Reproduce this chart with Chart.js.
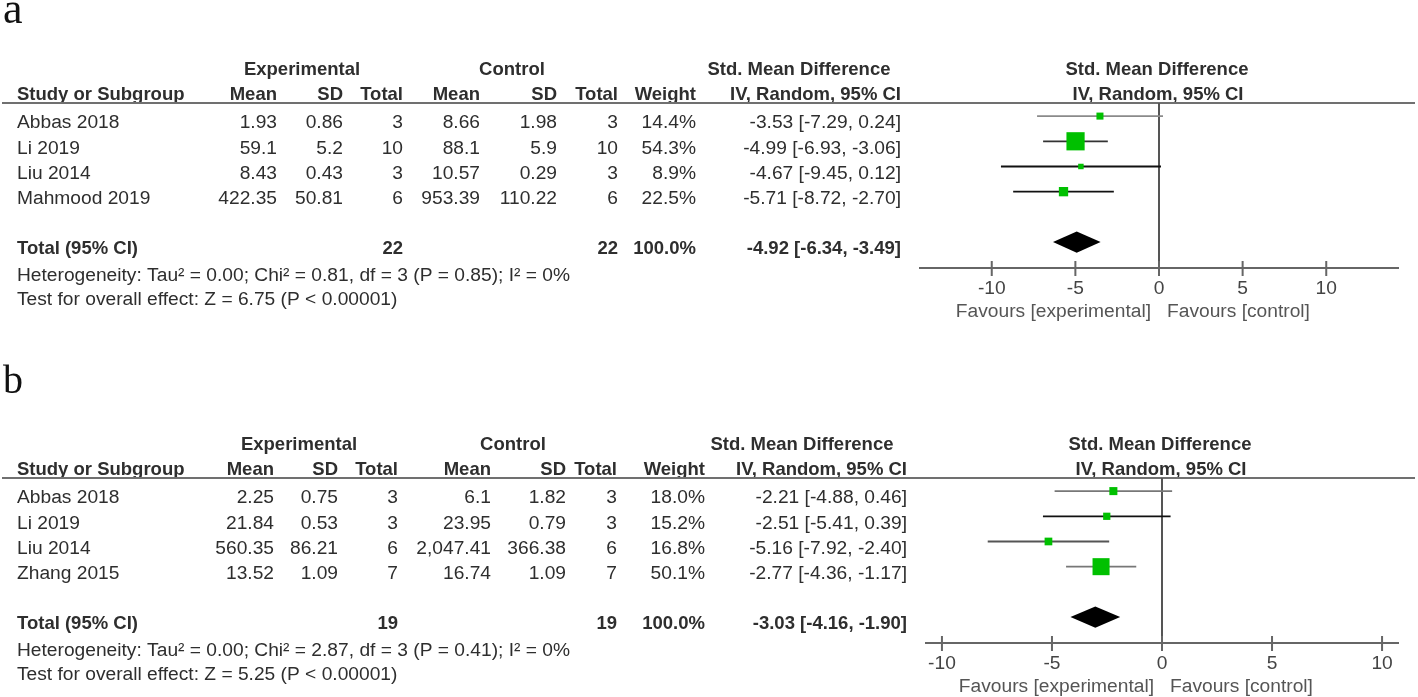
<!DOCTYPE html>
<html>
<head>
<meta charset="utf-8">
<script src="https://cdn.jsdelivr.net/npm/chart.js@4.4.1/dist/chart.umd.min.js"></script>
<style>
    html, body { margin: 0; padding: 0; background: #fff; }
    #wrap { position: relative; width: 1418px; height: 697px; overflow: hidden; }
    .panel { position: absolute; left: 0; width: 1418px; }
</style>
</head>
<body>
<div id="wrap">
    <div class="panel" style="top:0;height:350px"><canvas id="panelA"></canvas></div>
    <div class="panel" style="top:350px;height:347px"><canvas id="panelB"></canvas></div>
</div>
<script>
//--------------------------------------------Data
const tickValues = [-10, -5, 0, 5, 10];

// panel a
const studiesA = ['Abbas 2018', 'Li 2019', 'Liu 2014', 'Mahmood 2019'];
const expMeanA = [1.93, 59.1, 8.43, 422.35];
const expSdA = [0.86, 5.2, 0.43, 50.81];
const expNA = [3, 10, 3, 6];
const ctlMeanA = [8.66, 88.1, 10.57, 953.39];
const ctlSdA = [1.98, 5.9, 0.29, 110.22];
const ctlNA = [3, 10, 3, 6];
const weightA = [14.4, 54.3, 8.9, 22.5];
const smdA = [-3.53, -4.99, -4.67, -5.71];
const lowA = [-7.29, -6.93, -9.45, -8.72];
const highA = [0.24, -3.06, 0.12, -2.70];
const totalA = { expN: 22, ctlN: 22, smd: -4.92, low: -6.34, high: -3.49 };
const hetA = 'Heterogeneity: Tau² = 0.00; Chi² = 0.81, df = 3 (P = 0.85); I² = 0%';
const testA = 'Test for overall effect: Z = 6.75 (P < 0.00001)';

// panel b
const studiesB = ['Abbas 2018', 'Li 2019', 'Liu 2014', 'Zhang 2015'];
const expMeanB = [2.25, 21.84, 560.35, 13.52];
const expSdB = [0.75, 0.53, 86.21, 1.09];
const expNB = [3, 3, 6, 7];
const ctlMeanB = [6.1, 23.95, 2047.41, 16.74];
const ctlSdB = [1.82, 0.79, 366.38, 1.09];
const ctlNB = [3, 3, 6, 7];
const weightB = [18.0, 15.2, 16.8, 50.1];
const smdB = [-2.21, -2.51, -5.16, -2.77];
const lowB = [-4.88, -5.41, -7.92, -4.36];
const highB = [0.46, 0.39, -2.40, -1.17];
const totalB = { expN: 19, ctlN: 19, smd: -3.03, low: -4.16, high: -1.90 };
const hetB = 'Heterogeneity: Tau² = 0.00; Chi² = 2.87, df = 3 (P = 0.41); I² = 0%';
const testB = 'Test for overall effect: Z = 5.25 (P < 0.00001)';

//--------------------------------------------Layout
const REG = '19.2px "Liberation Sans", Arial, sans-serif';
const BOLD = 'bold 18.5px "Liberation Sans", Arial, sans-serif';
const TEXT = '#2e2e2e';
const TOTAL_ROW = 5;
const TEXT_DY = 7;

const layoutA = {
    id: 'panelA', height: 350, dy: 0, label: 'a', labelFont: '44px "Liberation Serif", serif', labelY: 23,
    plotLeft: 919, plotRight: 1399, range: 14.35,
    cols: [17, 277, 343, 403, 480, 557, 618, 696, 901],
    heads: [302, 512, 799, 1157], ivX: 1158,
    ciColors: ['#8a8a8a', '#333', '#111', '#111'],
};
const layoutB = {
    id: 'panelB', height: 347, dy: 25, label: 'b', labelFont: '40px "Liberation Serif", serif', labelY: 43,
    plotLeft: 925, plotRight: 1399, range: 10.77,
    cols: [17, 274, 338, 398, 491, 566, 617, 705, 907],
    heads: [299, 513, 802, 1160], ivX: 1161,
    ciColors: ['#777', '#111', '#555', '#777'],
};

//--------------------------------------------Functions
const fmtNum = v => v.toLocaleString('en-US', { maximumFractionDigits: 2 });
const fmtCi = (m, l, h) => `${m.toFixed(2)} [${l.toFixed(2)}, ${h.toFixed(2)}]`;

function txt(ctx, s, x, y, align, font, color) {
    ctx.font = font;
    ctx.fillStyle = color || TEXT;
    ctx.textAlign = align;
    ctx.textBaseline = 'middle';
    ctx.fillText(s, x, y);
}

function forestPlugin(L, d) {
    return {
        id: 'forest_' + L.id,
        beforeDatasetsDraw(chart) {
            const { ctx, chartArea, scales } = chart;
            const xs = scales.x, ys = scales.y;
            const top = chartArea.top, bottom = chartArea.bottom;
            const c = L.cols;
            ctx.save();

            // panel letter
            ctx.font = L.labelFont;
            ctx.fillStyle = '#111';
            ctx.textAlign = 'left';
            ctx.textBaseline = 'alphabetic';
            ctx.fillText(L.label, 3, L.labelY);

            // headers
            const h1 = top - 33, h2 = top - 8;
            txt(ctx, 'Experimental', L.heads[0], h1, 'center', BOLD);
            txt(ctx, 'Control', L.heads[1], h1, 'center', BOLD);
            txt(ctx, 'Std. Mean Difference', L.heads[2], h1, 'center', BOLD);
            txt(ctx, 'Std. Mean Difference', L.heads[3], h1, 'center', BOLD);
            txt(ctx, 'Study or Subgroup', c[0], h2, 'left', BOLD);
            txt(ctx, 'Mean', c[1], h2, 'right', BOLD);
            txt(ctx, 'SD', c[2], h2, 'right', BOLD);
            txt(ctx, 'Total', c[3], h2, 'right', BOLD);
            txt(ctx, 'Mean', c[4], h2, 'right', BOLD);
            txt(ctx, 'SD', c[5], h2, 'right', BOLD);
            txt(ctx, 'Total', c[6], h2, 'right', BOLD);
            txt(ctx, 'Weight', c[7], h2, 'right', BOLD);
            txt(ctx, 'IV, Random, 95% CI', c[8], h2, 'right', BOLD);
            txt(ctx, 'IV, Random, 95% CI', L.ivX, h2, 'center', BOLD);

            // header rule
            ctx.strokeStyle = '#707070';
            ctx.lineWidth = 2;
            ctx.beginPath();
            ctx.moveTo(2, top);
            ctx.lineTo(1415, top);
            ctx.stroke();

            // study rows
            d.studies.forEach((s, i) => {
                const y = ys.getPixelForValue(i) + TEXT_DY;
                txt(ctx, s, c[0], y, 'left', REG);
                txt(ctx, fmtNum(d.expMean[i]), c[1], y, 'right', REG);
                txt(ctx, fmtNum(d.expSd[i]), c[2], y, 'right', REG);
                txt(ctx, String(d.expN[i]), c[3], y, 'right', REG);
                txt(ctx, fmtNum(d.ctlMean[i]), c[4], y, 'right', REG);
                txt(ctx, fmtNum(d.ctlSd[i]), c[5], y, 'right', REG);
                txt(ctx, String(d.ctlN[i]), c[6], y, 'right', REG);
                txt(ctx, d.weight[i].toFixed(1) + '%', c[7], y, 'right', REG);
                txt(ctx, fmtCi(d.smd[i], d.low[i], d.high[i]), c[8], y, 'right', REG);
            });

            // total row
            const ty = ys.getPixelForValue(TOTAL_ROW) + TEXT_DY;
            const t = d.total;
            txt(ctx, 'Total (95% CI)', c[0], ty, 'left', BOLD);
            txt(ctx, String(t.expN), c[3], ty, 'right', BOLD);
            txt(ctx, String(t.ctlN), c[6], ty, 'right', BOLD);
            txt(ctx, '100.0%', c[7], ty, 'right', BOLD);
            txt(ctx, fmtCi(t.smd, t.low, t.high), c[8], ty, 'right', BOLD);
            txt(ctx, d.het, c[0], ys.getPixelForValue(TOTAL_ROW + 1.04) + TEXT_DY, 'left', REG);
            txt(ctx, d.test, c[0], ys.getPixelForValue(TOTAL_ROW + 2.02) + TEXT_DY, 'left', REG);

            // zero line
            const x0 = xs.getPixelForValue(0);
            ctx.strokeStyle = '#555';
            ctx.lineWidth = 2;
            ctx.beginPath();
            ctx.moveTo(x0, top);
            ctx.lineTo(x0, bottom);
            ctx.stroke();

            // axis
            ctx.strokeStyle = '#666';
            ctx.beginPath();
            ctx.moveTo(chartArea.left, bottom);
            ctx.lineTo(chartArea.right, bottom);
            tickValues.forEach(v => {
                const x = xs.getPixelForValue(v);
                ctx.moveTo(x, bottom - 7);
                ctx.lineTo(x, bottom + 8);
            });
            ctx.stroke();
            tickValues.forEach(v => {
                txt(ctx, String(v), xs.getPixelForValue(v), bottom + 21, 'center', REG, '#444');
            });
            txt(ctx, 'Favours [experimental]', x0 - 8, bottom + 44, 'right', REG, '#555');
            txt(ctx, 'Favours [control]', x0 + 8, bottom + 44, 'left', REG, '#555');
            ctx.restore();
        },
        afterDatasetsDraw(chart) {
            const { ctx, scales } = chart;
            const xs = scales.x, ys = scales.y;
            const t = d.total;
            const yc = ys.getPixelForValue(TOTAL_ROW);
            const half = Math.abs(ys.getPixelForValue(TOTAL_ROW + 0.42) - yc);
            ctx.save();
            ctx.fillStyle = '#000';
            ctx.beginPath();
            ctx.moveTo(xs.getPixelForValue(t.low), yc);
            ctx.lineTo(xs.getPixelForValue(t.smd), yc - half);
            ctx.lineTo(xs.getPixelForValue(t.high), yc);
            ctx.lineTo(xs.getPixelForValue(t.smd), yc + half);
            ctx.closePath();
            ctx.fill();
            ctx.restore();
        }
    };
}

function buildPanel(L, d) {
    const markers = {
        data: d.studies.map((s, i) => ({ x: d.smd[i], y: i })),
        pointStyle: 'rect',
        pointRadius: d.weight.map(w => (3 + 0.28 * w) / Math.SQRT2),
        backgroundColor: '#00c000',
        borderWidth: 0,
    };
    const ciLines = d.studies.map((s, i) => ({
        data: [{ x: d.low[i], y: i }, { x: d.high[i], y: i }],
        showLine: true,
        borderColor: L.ciColors[i],
        borderWidth: 1.8,
        pointRadius: 0,
    }));

    new Chart(document.getElementById(L.id), {
        type: 'scatter',
        data: { datasets: [markers, ...ciLines] },
        options: {
            responsive: true,
            maintainAspectRatio: false,
            animation: false,
            events: [],
            layout: {
                padding: {
                    left: L.plotLeft,
                    right: 1418 - L.plotRight,
                    top: 103 + L.dy,
                    bottom: L.height - (268 + L.dy),
                }
            },
            plugins: {
                legend: { display: false },
                tooltip: { enabled: false },
            },
            scales: {
                x: { type: 'linear', display: false, min: -L.range, max: L.range },
                y: { type: 'linear', display: false, min: -0.52, max: 6.03, reverse: true },
            }
        },
        plugins: [forestPlugin(L, d)]
    });
}

buildPanel(layoutA, {
    studies: studiesA, expMean: expMeanA, expSd: expSdA, expN: expNA,
    ctlMean: ctlMeanA, ctlSd: ctlSdA, ctlN: ctlNA, weight: weightA,
    smd: smdA, low: lowA, high: highA, total: totalA, het: hetA, test: testA,
});
buildPanel(layoutB, {
    studies: studiesB, expMean: expMeanB, expSd: expSdB, expN: expNB,
    ctlMean: ctlMeanB, ctlSd: ctlSdB, ctlN: ctlNB, weight: weightB,
    smd: smdB, low: lowB, high: highB, total: totalB, het: hetB, test: testB,
});
</script>
</body>
</html>
